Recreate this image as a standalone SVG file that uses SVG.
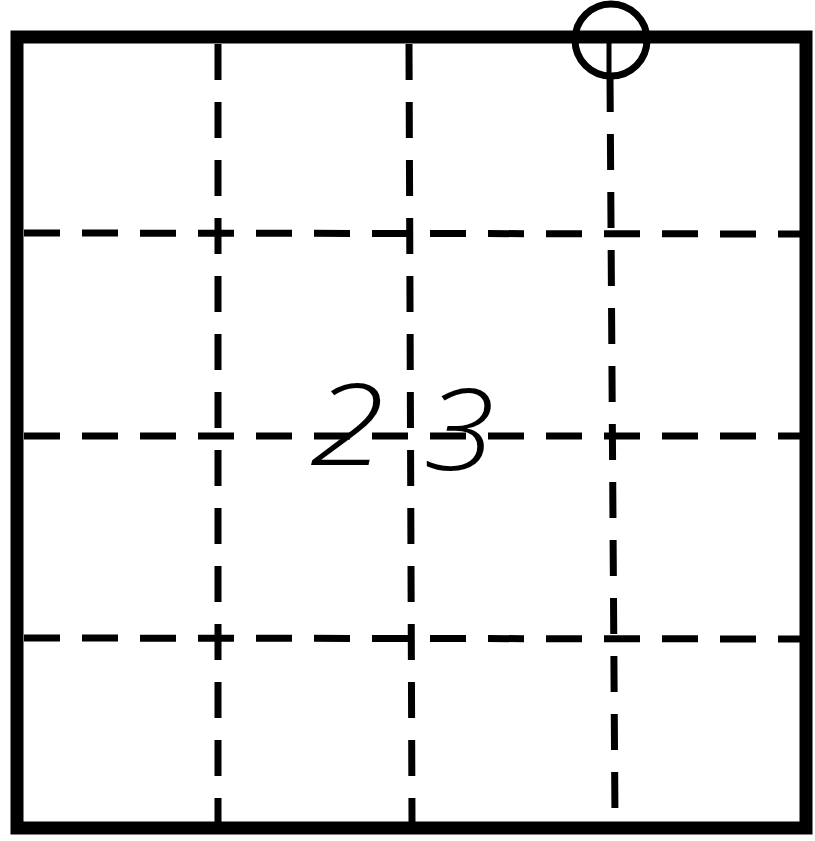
<svg xmlns="http://www.w3.org/2000/svg" width="815" height="841" viewBox="0 0 815 841">
<style>
.border{fill:none;stroke:#000;stroke-width:13;stroke-linejoin:miter}
.dash{stroke:#000;stroke-width:7;stroke-dasharray:36 22;fill:none}
.lbl{font-family:"Open Sans","DejaVu Sans",sans-serif;font-style:italic;font-weight:300;font-size:112px;fill:#000}
</style>
<rect width="815" height="841" fill="#fff"/>
<g id="connectors">
<line class="dash" x1="218" y1="44" x2="218" y2="822"/>
<line class="dash" x1="409" y1="44" x2="412" y2="822"/>
<line class="dash" x1="610" y1="76" x2="615" y2="822"/>
<line class="dash" x1="24" y1="233" x2="800" y2="234"/>
<line class="dash" x1="24" y1="436" x2="800" y2="436"/>
<line class="dash" x1="24" y1="638" x2="800" y2="639"/>
</g>
<g id="frame">
<rect class="border" x="17" y="37" width="789" height="791"/>
</g>
<g id="marker-top">
<circle cx="611" cy="40" r="36" fill="none" stroke="#000" stroke-width="7"/>
<line x1="609" y1="40" x2="609" y2="74" stroke="#000" stroke-width="5"/>
</g>
<g id="label">
<text class="lbl" x="310" y="465" textLength="75" lengthAdjust="spacingAndGlyphs">2</text>
<text class="lbl" x="424" y="470" textLength="70" lengthAdjust="spacingAndGlyphs">3</text>
</g>
</svg>
